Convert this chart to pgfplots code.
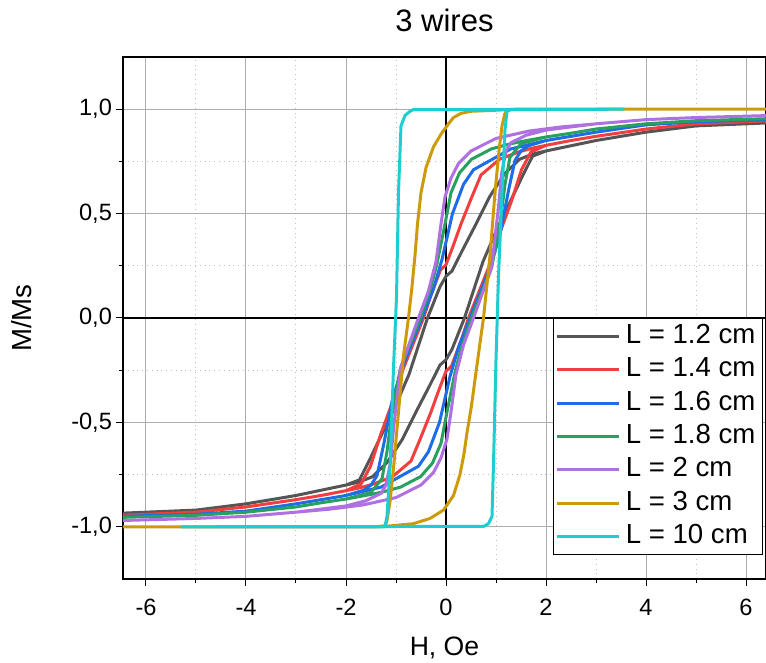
\documentclass[border=0pt]{standalone}
\usepackage{fontspec}
\setmainfont{Liberation Sans}
\usepackage{pgfplots}
\pgfplotsset{compat=1.18}
\definecolor{cBlack}{RGB}{85,85,85}
\definecolor{cRed}{RGB}{242,62,62}
\definecolor{cBlue}{RGB}{30,108,230}
\definecolor{cGreen}{RGB}{40,160,95}
\definecolor{cPurple}{RGB}{175,112,225}
\definecolor{cGold}{RGB}{205,155,10}
\definecolor{cCyan}{RGB}{30,205,208}
\begin{document}
\begin{tikzpicture}
\begin{axis}[
  name=ax,
  scale only axis,
  width=321.5pt, height=261pt,
  xmin=-6.46, xmax=6.4, ymin=-1.25, ymax=1.25,
  xtick={-6,-4,...,6}, minor xtick={-5,-3,...,5},
  ytick={-1,-0.5,0,0.5,1}, minor ytick={-0.75,-0.25,0.25,0.75},
  tick align=outside, xtick pos=bottom, ytick pos=left,
  major tick length=3.5pt, minor tick length=2pt,
  tick style={black, line width=0.5pt},
  grid=both,
  major grid style={black!32, line width=0.5pt},
  minor grid style={black!25, dotted, line width=0.5pt},
  axis line style={black, line width=1pt},
  extra x ticks={0}, extra x tick labels={},
  extra y ticks={0}, extra y tick labels={},
  extra tick style={grid=major, major grid style={black, line width=1pt}, major tick length=0pt},
  /pgf/number format/assume math mode=true,
  yticklabel style={/pgf/number format/fixed, /pgf/number format/fixed zerofill, /pgf/number format/precision=1, /pgf/number format/use comma},
  ticklabel style={font=\fontsize{11.8}{13}\selectfont},
  xticklabel style={yshift=-3pt},
  yticklabel style={xshift=1.5pt},
  title={3 wires},
  title style={at={(0.5,1.067)}, anchor=center, yshift=-5pt, font=\fontsize{15.5}{17}\selectfont},
  xlabel={H, Oe},
  xlabel style={at={(0.5,-0.132)}, anchor=center, font=\fontsize{13.3}{15}\selectfont},
  ylabel={M/Ms},
  ylabel style={at={(-0.157,0.5)}, anchor=center, font=\fontsize{13.8}{15}\selectfont},
  legend style={at={(0.9953,0.5)}, anchor=north east, draw=black, line width=0.5pt, fill=white,
    font=\fontsize{13.8}{16}\selectfont, inner xsep=1pt, inner ysep=0.5pt, row sep=0pt,
    nodes={text height=10pt, text depth=3pt, inner ysep=1.85pt, inner xsep=2.5pt}},
  legend cell align=left,
  legend image code/.code={\draw[#1, line width=1.5pt] (0pt,0pt) -- (31pt,0pt);},
  every axis plot/.append style={line width=1.5pt, no marks, line join=round},
]
% L = 1.2 cm
\addplot[cBlack] coordinates {
(-6.5,-0.935) (-5,-0.92) (-4,-0.89) (-3,-0.85) (-2.5,-0.825) (-2,-0.80) (-1.73,-0.785) (-1.47,-0.76) (-1.17,-0.69) (-0.87,-0.58) (-0.6,-0.45) (-0.33,-0.325) (-0.12,-0.225) (0.0,-0.2) (0.12,-0.15) (0.37,0.0) (0.74,0.27) (1.0,0.415) (1.27,0.55) (1.53,0.68) (1.73,0.775) (2,0.80) (2.5,0.825) (3,0.85) (4,0.89) (5,0.92) (6.5,0.935)
(6.5,0.935) (5,0.92) (4,0.89) (3,0.85) (2.5,0.825) (2,0.80) (1.73,0.785) (1.47,0.76) (1.17,0.69) (0.87,0.58) (0.6,0.45) (0.33,0.325) (0.12,0.225) (0.0,0.2) (-0.12,0.15) (-0.37,0.0) (-0.74,-0.27) (-1.0,-0.415) (-1.27,-0.55) (-1.53,-0.68) (-1.73,-0.775) (-2,-0.80) (-2.5,-0.825) (-3,-0.85) (-4,-0.89) (-5,-0.92) (-6.5,-0.935)
};
\addlegendentry{L = 1.2 cm}
% L = 1.4 cm
\addplot[cRed] coordinates {
(-6.5,-0.945) (-5,-0.93) (-4,-0.905) (-3,-0.87) (-2.5,-0.85) (-2,-0.827) (-1.7,-0.812) (-1.45,-0.795) (-1.07,-0.76) (-0.7,-0.685) (-0.5,-0.57) (-0.3,-0.45) (-0.15,-0.35) (0.0,-0.255) (0.11,-0.23) (0.3,-0.11) (0.45,0.0) (0.85,0.24) (1.05,0.39) (1.31,0.56) (1.51,0.71) (1.7,0.795) (2,0.827) (2.5,0.85) (3,0.87) (4,0.905) (5,0.93) (6.5,0.945)
(6.5,0.945) (5,0.93) (4,0.905) (3,0.87) (2.5,0.85) (2,0.827) (1.7,0.812) (1.45,0.795) (1.07,0.76) (0.7,0.685) (0.5,0.57) (0.3,0.45) (0.15,0.35) (0.0,0.255) (-0.11,0.23) (-0.3,0.11) (-0.45,0.0) (-0.85,-0.24) (-1.05,-0.39) (-1.31,-0.56) (-1.51,-0.71) (-1.7,-0.795) (-2,-0.827) (-2.5,-0.85) (-3,-0.87) (-4,-0.905) (-5,-0.93) (-6.5,-0.945)
};
\addlegendentry{L = 1.4 cm}
% L = 1.6 cm
\addplot[cBlue] coordinates {
(-6.5,-0.95) (-5,-0.94) (-4,-0.925) (-3,-0.89) (-2.5,-0.87) (-2,-0.85) (-1.65,-0.83) (-1.3,-0.81) (-0.85,-0.75) (-0.55,-0.71) (-0.35,-0.64) (-0.13,-0.5) (0.08,-0.28) (0.25,-0.14) (0.48,0.0) (0.88,0.24) (1.08,0.40) (1.25,0.61) (1.38,0.755) (1.5,0.80) (1.65,0.825) (2,0.85) (2.5,0.87) (3,0.89) (4,0.925) (5,0.94) (6.5,0.95)
(6.5,0.95) (5,0.94) (4,0.925) (3,0.89) (2.5,0.87) (2,0.85) (1.65,0.83) (1.3,0.81) (0.85,0.75) (0.55,0.71) (0.35,0.64) (0.13,0.5) (-0.08,0.28) (-0.25,0.14) (-0.48,0.0) (-0.88,-0.24) (-1.08,-0.40) (-1.25,-0.61) (-1.38,-0.755) (-1.5,-0.80) (-1.65,-0.825) (-2,-0.85) (-2.5,-0.87) (-3,-0.89) (-4,-0.925) (-5,-0.94) (-6.5,-0.95)
};
\addlegendentry{L = 1.6 cm}
% L = 1.8 cm
\addplot[cGreen] coordinates {
(-6.5,-0.955) (-5,-0.945) (-4,-0.93) (-3,-0.905) (-2.5,-0.885) (-2,-0.867) (-1.5,-0.845) (-1.3,-0.835) (-0.91,-0.81) (-0.51,-0.76) (-0.27,-0.695) (-0.1,-0.6) (0.02,-0.45) (0.18,-0.26) (0.3,-0.15) (0.51,0.0) (0.91,0.24) (1.08,0.45) (1.18,0.64) (1.28,0.77) (1.5,0.835) (2,0.867) (2.5,0.885) (3,0.905) (4,0.93) (5,0.945) (6.5,0.955)
(6.5,0.955) (5,0.945) (4,0.93) (3,0.905) (2.5,0.885) (2,0.867) (1.5,0.845) (1.3,0.835) (0.91,0.81) (0.51,0.76) (0.27,0.695) (0.1,0.6) (-0.02,0.45) (-0.18,0.26) (-0.3,0.15) (-0.51,0.0) (-0.91,-0.24) (-1.08,-0.45) (-1.18,-0.64) (-1.28,-0.77) (-1.5,-0.835) (-2,-0.867) (-2.5,-0.885) (-3,-0.905) (-4,-0.93) (-5,-0.945) (-6.5,-0.955)
};
\addlegendentry{L = 1.8 cm}
% L = 2 cm
\addplot[cPurple] coordinates {
(-6.5,-0.97) (-5,-0.96) (-4,-0.95) (-3,-0.93) (-2.3,-0.915) (-1.65,-0.895) (-1.0,-0.86) (-0.5,-0.8) (-0.25,-0.74) (-0.1,-0.67) (0.02,-0.58) (0.1,-0.45) (0.2,-0.27) (0.35,-0.13) (0.55,0.0) (0.91,0.24) (1.05,0.53) (1.11,0.69) (1.2,0.8) (1.3,0.84) (1.6,0.875) (2,0.90) (2.5,0.915) (3,0.93) (4,0.95) (5,0.96) (6.5,0.97)
(6.5,0.97) (5,0.96) (4,0.95) (3,0.93) (2.3,0.915) (1.65,0.895) (1.0,0.86) (0.5,0.8) (0.25,0.74) (0.1,0.67) (-0.02,0.58) (-0.1,0.45) (-0.2,0.27) (-0.35,0.13) (-0.55,0.0) (-0.91,-0.24) (-1.05,-0.53) (-1.11,-0.69) (-1.2,-0.8) (-1.3,-0.84) (-1.6,-0.875) (-2,-0.90) (-2.5,-0.915) (-3,-0.93) (-4,-0.95) (-5,-0.96) (-6.5,-0.97)
};
\addlegendentry{L = 2 cm}
% L = 3 cm
\addplot[cGold] coordinates {
(-6.5,-1.0) (-1.4,-1.0) (-1.22,-0.998) (-0.65,-0.985) (-0.32,-0.96) (-0.05,-0.92) (0.15,-0.85) (0.28,-0.75) (0.36,-0.65) (0.42,-0.55) (0.51,-0.42) (0.6,-0.26) (0.68,-0.12) (0.75,0.0) (0.88,0.3) (0.98,0.6) (1.06,0.8) (1.12,0.92) (1.18,0.98) (1.24,0.997) (1.4,1.0) (6.5,1.0)
(6.5,1.0) (1.4,1.0) (1.0,0.995) (0.5,0.99) (0.3,0.98) (0.15,0.96) (0.05,0.93) (-0.1,0.88) (-0.25,0.82) (-0.4,0.72) (-0.5,0.6) (-0.57,0.45) (-0.62,0.3) (-0.68,0.15) (-0.75,0.0) (-0.85,-0.18) (-0.95,-0.45) (-1.05,-0.72) (-1.12,-0.88) (-1.18,-0.97) (-1.22,-0.995) (-1.4,-1.0) (-6.5,-1.0)
};
\addlegendentry{L = 3 cm}
% L = 10 cm
\addplot[cCyan] coordinates {
(-5.3,-1.0) (0.75,-0.998) (0.85,-0.985) (0.92,-0.95) (0.95,-0.7) (1.0,-0.2) (1.05,0.2) (1.12,0.6) (1.18,0.9) (1.22,0.99) (1.3,0.998) (3.55,1.0)
(3.55,1.0) (-0.65,0.998) (-0.72,0.99) (-0.82,0.97) (-0.9,0.92) (-0.95,0.6) (-0.99,0.1) (-1.05,-0.24) (-1.12,-0.72) (-1.18,-0.95) (-1.22,-1.0) (-5.3,-1.0)
};
\addlegendentry{L = 10 cm}
\end{axis}
\pgfresetboundingbox
\path (ax.south west) ++(-61.5pt,-42pt) rectangle ([yshift=28.5pt]ax.north east);
\end{tikzpicture}
\end{document}
